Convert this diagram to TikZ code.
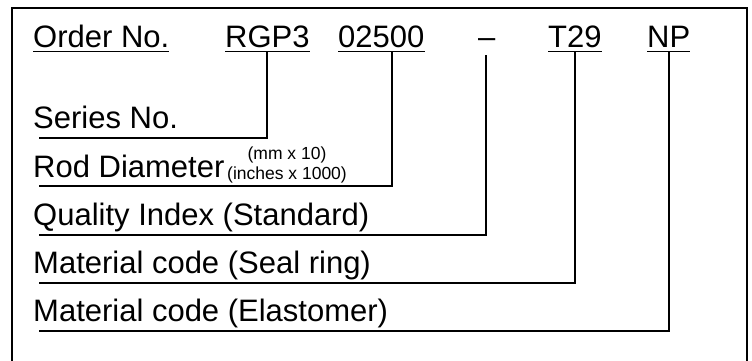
\documentclass[tikz,border=0pt]{standalone}
\usepackage{fontspec}
\setmainfont{Liberation Sans}
\begin{document}
\begin{tikzpicture}[x=1pt,y=-1pt,
  big/.style={inner sep=0pt,anchor=base west,font=\fontsize{31}{31}\selectfont},
  small/.style={inner sep=0pt,anchor=base,font=\fontsize{17.5}{17.5}\selectfont},
  uline/.style={line width=1.6pt},
  conn/.style={line width=2.2pt},
  frame/.style={line width=2pt}]
\useasboundingbox (0,0) rectangle (752,360);
\draw[frame] (12,362) -- (12,8) -- (747,8) -- (747,362);
% header
\node[big] (h1) at (33,47) {Order No.};
\node[big] (h2) at (225,47) {RGP3};
\node[big] (h3) at (338,47) {02500};
\node[big] (h4) at (478,47) {–};
\node[big] (h5) at (548,47) {T29};
\node[big] (h6) at (647,47) {NP};
\foreach \n in {h1,h2,h3,h5,h6}
  \draw[uline] ([yshift=-4.5pt]\n.base west) -- ([yshift=-4.5pt]\n.base east);
% labels
\node[big] (l1) at (33,128) {Series No.};
\node[big] (l2) at (33,177) {Rod Diameter};
\node[small] (m1) at (287,159) {(mm x 10)};
\node[small] (m2) at (287,179) {(inches x 1000)};
\node[big] (l3) at (33,225) {Quality Index (Standard)};
\node[big] (l4) at (33,273) {Material code (Seal ring)};
\node[big] (l5) at (33,321) {Material code (Elastomer)};
% connector coordinates
\coordinate (c1) at (267,51);
\coordinate (c2) at (392,51);
\coordinate (c3) at (486,55);
\coordinate (c4) at (575,51);
\coordinate (c5) at (669,51);
\coordinate (e1) at (39,138);
\coordinate (e2) at (39,186);
\coordinate (e3) at (39,235);
\coordinate (e4) at (39,283);
\coordinate (e5) at (39,331);
\foreach \i in {1,...,5}
  \draw[conn] (c\i) |- (e\i);
\end{tikzpicture}
\end{document}
